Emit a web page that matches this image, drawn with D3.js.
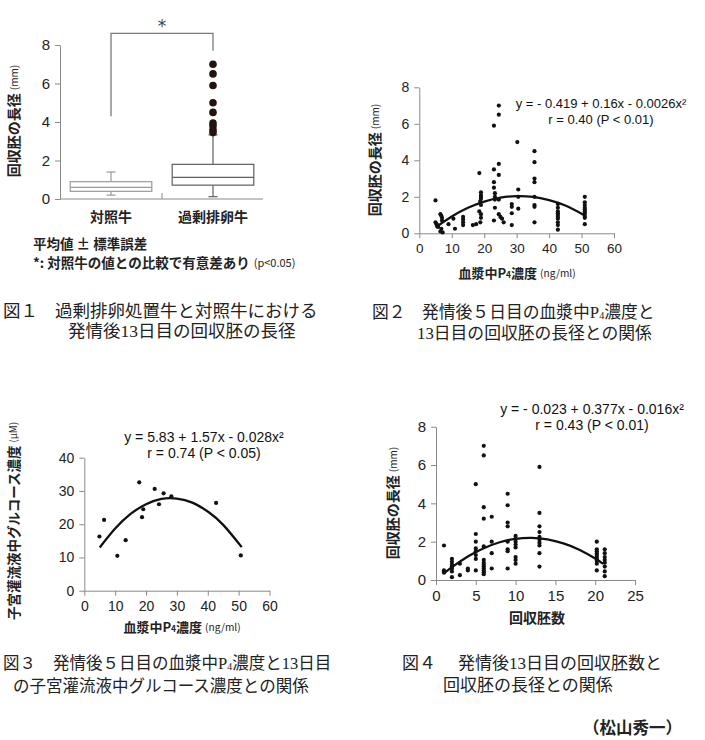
<!DOCTYPE html>
<html><head><meta charset="utf-8">
<script src="https://cdn.jsdelivr.net/npm/d3@7"></script>
<style>
body{margin:0;background:#fff;}
svg{display:block;}
</style></head>
<body><svg id="c" width="705" height="740"></svg>
<script>
// ---------- DATA ----------
// Figure 1: box plot
const fig1Categories = ["対照牛", "過剰排卵牛"];
const fig1WhiskerLow = [0.2, 0.12];
const fig1Q1 = [0.4, 0.72];
const fig1Median = [0.6, 1.12];
const fig1Q3 = [0.9, 1.8];
const fig1WhiskerHigh = [1.4, 3.33];
const fig1Outliers = [7.0, 6.5, 5.9, 5.0, 4.5, 3.95, 3.8, 3.6, 3.45];
const fig1Ticks = [0, 2, 4, 6, 8];
const fig1Bracket = [8.6, 4.3, 7.7]; // top, left leg end, right leg end (mm)

// Figure 2: plasma P4 vs embryo length
const fig2Points = [
 [5,1.8],[5,0.6],[5.3,0.5],[5.5,0.45],[5.8,0.35],[6.5,1.05],[6.8,0.95],[7,0.85],[7,0.7],[6.8,0.25],[6.5,0.1],[7.2,0.05],
 [9,0.5],[10.5,0.8],[11,0.25],[13.5,0.9],[13.5,0.75],[13.5,0.6],[13.5,0.45],[16.5,0.45],[17.5,0.5],
 [18.5,3.3],[19,2.25],[19,2.1],[19,2.0],[19,1.9],[18.8,1.75],[19,1.55],[18.5,1.2],[19,1.05],[19,0.85],[18.8,0.6],
 [23,5.9],[24.5,7.0],[24.5,6.5],[23,3.5],[24.5,3.8],[24.5,3.2],[23,2.8],[23,2.5],[23.3,2.2],[23.3,2.0],[23.3,1.85],[23.3,1.4],[23,0.7],
 [24.5,1.85],[24.5,1.05],[25,0.9],[25.5,0.8],[26,0.6],[28.5,1.6],[28.5,1.45],[28.5,1.1],[28.5,0.45],
 [30.2,5.0],[30.5,2.4],[30.5,2.0],[30.5,1.35],
 [35.5,4.5],[35.5,3.9],[35.5,3.0],[35.5,2.8],[35.5,2.0],[35.5,1.55],[35.5,1.45],[35.5,0.6],
 [42.7,1.6],[42.7,1.4],[42.7,1.2],[42.7,1.1],[42.7,1.0],[42.7,0.9],[42.7,0.8],[42.7,0.6],[42.7,0.45],[42.7,0.2],
 [51,2.0],[51,1.7],[51,1.55],[51,1.4],[51,1.3],[51,1.2],[51,1.1],[51,0.95],[51,0.85],[51,0.5]
];
const fig2CurveX = [5, 10, 15, 20, 25, 30, 35, 40, 45, 51];
const fig2CurveY = [0.32, 0.92, 1.40, 1.74, 1.96, 2.04, 2.00, 1.82, 1.52, 0.98];
const fig2XTicks = [0, 10, 20, 30, 40, 50, 60];
const fig2YTicks = [0, 2, 4, 6, 8];

// Figure 3: plasma P4 vs uterine glucose
const fig3X = [4.9, 6.4, 10.7, 13.4, 17.8, 19.1, 18.7, 22.8, 24.2, 25.7, 28.2, 42.7, 50.7];
const fig3Y = [16.3, 21.3, 10.5, 15.2, 32.6, 24.5, 22.1, 30.6, 26.0, 29.3, 28.4, 26.4, 10.6];
const fig3CurveX = [5, 10, 15, 20, 25, 30, 35, 40, 45, 51];
const fig3CurveY = [13.0, 18.7, 23.1, 26.0, 27.6, 27.7, 26.5, 23.8, 19.8, 13.1];
const fig3XTicks = [0, 10, 20, 30, 40, 50, 60];
const fig3YTicks = [0, 10, 20, 30, 40];

// Figure 4: embryo count vs embryo length
const fig4Columns = [1, 2, 3, 4, 5, 6, 7, 9, 10, 13, 20.2, 21.2];
const fig4Values = [
 [1.8, 0.5, 0.45, 0.38],
 [1.1, 0.95, 0.8, 0.7, 0.6, 0.45, 0.15],
 [0.85, 0.25],
 [0.6, 0.5],
 [5.0, 2.4, 2.0, 1.65, 1.5, 1.3, 1.1, 0.5],
 [7.0, 6.5, 3.8, 3.2, 1.75, 1.05, 0.9, 0.8, 0.7, 0.6, 0.5, 0.4, 0.3],
 [3.3, 2.0, 1.4, 0.6],
 [4.5, 3.9, 3.0, 2.8, 2.0, 1.6, 1.5, 0.6],
 [2.3, 2.15, 2.0, 1.85, 1.7, 1.2, 1.05, 0.85],
 [5.9, 3.5, 2.8, 2.5, 2.25, 2.1, 1.95, 1.8, 1.4, 0.7],
 [2.0, 1.6, 1.5, 1.4, 1.3, 1.2, 1.1, 1.0, 0.85, 0.5],
 [1.6, 1.4, 1.2, 1.05, 0.9, 0.7, 0.45, 0.2]
];
const fig4CurveX = [1, 2, 4, 6, 8, 10, 12, 14, 16, 18, 20, 21];
const fig4CurveY = [0.34, 0.67, 1.23, 1.66, 1.97, 2.15, 2.2, 2.12, 1.91, 1.58, 1.12, 0.84];
const fig4XTicks = [0, 5, 10, 15, 20, 25];
const fig4YTicks = [0, 2, 4, 6, 8];

// ---------- DRAWING ----------
const svg = d3.select("#c");
svg.append("rect").attr("width", 705).attr("height", 740).attr("fill", "#fff");
const SANS = "'Liberation Sans', Arial, 'Noto Sans CJK JP', sans-serif";
const JP = "'Noto Sans CJK JP', sans-serif";
const CAP = "'Liberation Serif', 'Noto Sans CJK JP', serif";
const AX = "#8a8a8a";

function styleAxis(g, fs) {
  g.select(".domain").attr("stroke", AX).attr("stroke-width", 1);
  g.selectAll(".tick line").attr("stroke", AX).attr("stroke-width", 1);
  g.selectAll(".tick text").attr("font-family", SANS).attr("font-size", fs).attr("fill", "#222");
}
function leftAxis(scale, ticks, x, fs) {
  const g = svg.append("g").attr("transform", `translate(${x},0)`)
    .call(d3.axisLeft(scale).tickValues(ticks).tickSize(5).tickSizeOuter(0).tickPadding(5));
  styleAxis(g, fs);
}
function bottomAxis(scale, ticks, y, fs) {
  const g = svg.append("g").attr("transform", `translate(0,${y})`)
    .call(d3.axisBottom(scale).tickValues(ticks).tickSize(5).tickSizeOuter(0).tickPadding(5));
  styleAxis(g, fs);
}
function yTitle(x, y, main, unit, fs) {
  const t = svg.append("text").attr("transform", `translate(${x},${y}) rotate(-90)`)
    .attr("text-anchor", "middle").attr("dominant-baseline", "central")
    .attr("font-family", JP).attr("font-weight", "bold").attr("font-size", fs).attr("fill", "#222");
  t.append("tspan").text(main);
  t.append("tspan").attr("font-size", fs * 0.72).attr("font-weight", "normal").attr("dx", 3).text(unit);
}
function p4Title(x, y, fs) {
  const t = svg.append("text").attr("x", x).attr("y", y).attr("text-anchor", "middle")
    .attr("dominant-baseline", "central").attr("font-family", JP).attr("font-weight", "bold")
    .attr("font-size", fs).attr("fill", "#222");
  t.append("tspan").text("血漿中P");
  t.append("tspan").attr("font-size", fs * 0.65).attr("dy", 2).text("4");
  t.append("tspan").attr("dy", -2).text("濃度");
  t.append("tspan").attr("font-size", fs * 0.78).attr("font-weight", "normal").attr("dx", 3).text("(ng/ml)");
}
function eqText(x, y, lines, fs) {
  lines.forEach((s, i) => {
    svg.append("text").attr("x", x).attr("y", y + i * 16).attr("text-anchor", "middle")
      .attr("dominant-baseline", "central").attr("font-family", SANS).attr("font-size", fs)
      .attr("fill", "#111").text(s);
  });
}
function caption(x, y, parts, fs) {
  const t = svg.append("text").attr("x", x).attr("y", y).attr("dominant-baseline", "central")
    .attr("font-family", CAP).attr("font-size", fs).attr("fill", "#222");
  parts.forEach(p => {
    const s = t.append("tspan").text(p.t);
    if (p.x !== undefined) s.attr("x", p.x);
    if (p.sub) s.attr("font-size", fs * 0.6).attr("dy", 3);
    if (p.up) s.attr("dy", -3);
  });
}
const line = (sx, sy) => d3.line().x(d => sx(d[0])).y(d => sy(d[1])).curve(d3.curveNatural);

// ===== Figure 1 =====
{
  const x = d3.scaleBand().domain(fig1Categories).range([60, 264]).paddingInner(0.2).paddingOuter(0.1);
  const y = d3.scaleLinear().domain([0, 8]).range([199, 45]);
  leftAxis(y, fig1Ticks, 60, 15);
  svg.append("line").attr("x1", 60).attr("x2", 263).attr("y1", y(0)).attr("y2", y(0)).attr("stroke", AX);
  const mid = (x(fig1Categories[0]) + x.bandwidth() + x(fig1Categories[1])) / 2;
  svg.append("line").attr("x1", mid).attr("x2", mid).attr("y1", y(0)).attr("y2", y(0) - 6).attr("stroke", AX);
  const boxColors = ["#9a9a9a", "#5e5e5e"];
  fig1Categories.forEach((c, i) => {
    const cx = x(c) + x.bandwidth() / 2;
    const g = svg.append("g").attr("stroke", boxColors[i]).attr("fill", "none").attr("stroke-width", 1.2);
    g.append("line").attr("x1", cx).attr("x2", cx).attr("y1", y(fig1Q3[i])).attr("y2", y(fig1WhiskerHigh[i]));
    g.append("line").attr("x1", cx).attr("x2", cx).attr("y1", y(fig1Q1[i])).attr("y2", y(fig1WhiskerLow[i]));
    g.append("line").attr("x1", cx - 4.5).attr("x2", cx + 4.5).attr("y1", y(fig1WhiskerHigh[i])).attr("y2", y(fig1WhiskerHigh[i]));
    g.append("line").attr("x1", cx - 4.5).attr("x2", cx + 4.5).attr("y1", y(fig1WhiskerLow[i])).attr("y2", y(fig1WhiskerLow[i]));
    g.append("rect").attr("x", x(c)).attr("width", x.bandwidth())
      .attr("y", y(fig1Q3[i])).attr("height", y(fig1Q1[i]) - y(fig1Q3[i])).attr("fill", "#fff");
    g.append("line").attr("x1", x(c)).attr("x2", x(c) + x.bandwidth()).attr("y1", y(fig1Median[i])).attr("y2", y(fig1Median[i]));
  });
  const cx2 = x(fig1Categories[1]) + x.bandwidth() / 2;
  svg.selectAll(".out").data(fig1Outliers).enter().append("circle")
    .attr("cx", cx2).attr("cy", d => y(d)).attr("r", 3.8).attr("fill", "#24140f");
  const cx1 = x(fig1Categories[0]) + x.bandwidth() / 2;
  svg.append("path").attr("fill", "none").attr("stroke", "#7a7a7a").attr("stroke-width", 1.3)
    .attr("d", `M${cx1},${y(fig1Bracket[1])}V${y(fig1Bracket[0])}H${cx2}V${y(fig1Bracket[2])}`);
  svg.append("text").attr("x", (cx1 + cx2) / 2).attr("y", y(fig1Bracket[0]) - 1).attr("text-anchor", "middle")
    .attr("font-family", "'DejaVu Sans', sans-serif").attr("font-size", 17).attr("fill", "#444").text("*");
  fig1Categories.forEach(c => {
    svg.append("text").attr("x", x(c) + x.bandwidth() / 2).attr("y", 216).attr("text-anchor", "middle")
      .attr("dominant-baseline", "central").attr("font-family", JP).attr("font-weight", "bold")
      .attr("font-size", 14).attr("fill", "#222").text(c);
  });
  yTitle(13, 121, "回収胚の長径", "(mm)", 14);
  svg.append("text").attr("x", 33).attr("y", 243).attr("dominant-baseline", "central").attr("font-family", JP)
    .attr("font-weight", "bold").attr("font-size", 13.5).attr("fill", "#222").text("平均値 ± 標準誤差");
  const n = svg.append("text").attr("x", 33).attr("y", 262).attr("dominant-baseline", "central").attr("font-family", JP)
    .attr("font-weight", "bold").attr("font-size", 13.5).attr("fill", "#222");
  n.append("tspan").text("*: 対照牛の値との比較で有意差あり");
  n.append("tspan").attr("font-size", 11).attr("font-weight", "normal").attr("dx", 4).text("(p<0.05)");
  caption(3, 311, [{t: "図１"}, {t: "過剰排卵処置牛と対照牛における", x: 55}], 17.5);
  caption(68, 331, [{t: "発情後13日目の回収胚の長径"}], 17.5);
}

// ===== Figure 2 =====
{
  const x = d3.scaleLinear().domain([0, 60]).range([419.3, 614]);
  const y = d3.scaleLinear().domain([0, 8]).range([233.3, 87.3]);
  leftAxis(y, fig2YTicks, 419.3, 14);
  bottomAxis(x, fig2XTicks, 233.3, 13.5);
  svg.selectAll(".p2").data(fig2Points).enter().append("circle")
    .attr("cx", d => x(d[0])).attr("cy", d => y(d[1])).attr("r", 2.1).attr("fill", "#111");
  svg.append("path").datum(fig2CurveX.map((v, i) => [v, fig2CurveY[i]])).attr("d", line(x, y))
    .attr("fill", "none").attr("stroke", "#111").attr("stroke-width", 2.3);
  eqText(601, 103, ["y = - 0.419 + 0.16x - 0.0026x²", "r = 0.40 (P < 0.01)"], 13);
  yTitle(374, 160, "回収胚の長径", "(mm)", 14);
  p4Title(517, 272, 13);
  caption(372, 312, [{t: "図２"}, {t: "発情後５日目の血漿中P", x: 422}, {t: "4", sub: true}, {t: "濃度と", up: true}], 16.8);
  caption(417, 333, [{t: "13日目の回収胚の長径との関係"}], 16.8);
}

// ===== Figure 3 =====
{
  const x = d3.scaleLinear().domain([0, 60]).range([84.3, 269.5]);
  const y = d3.scaleLinear().domain([0, 40]).range([590.7, 457.7]);
  leftAxis(y, fig3YTicks, 84.3, 14);
  bottomAxis(x, fig3XTicks, 590.7, 14);
  svg.selectAll(".p3").data(fig3X).enter().append("circle")
    .attr("cx", d => x(d)).attr("cy", (d, i) => y(fig3Y[i])).attr("r", 2.1).attr("fill", "#111");
  svg.append("path").datum(fig3CurveX.map((v, i) => [v, fig3CurveY[i]])).attr("d", line(x, y))
    .attr("fill", "none").attr("stroke", "#111").attr("stroke-width", 2.3);
  eqText(204, 437, ["y = 5.83 + 1.57x - 0.028x²", "r = 0.74 (P < 0.05)"], 14);
  yTitle(13, 521, "子宮灌流液中グルコース濃度", "(μM)", 13.5);
  p4Title(182, 626, 13);
  caption(3, 663, [{t: "図３"}, {t: "発情後５日目の血漿中P", x: 53}, {t: "4", sub: true}, {t: "濃度と13日目", up: true}], 16.5);
  caption(13, 686, [{t: "の子宮灌流液中グルコース濃度との関係"}], 16.5);
}

// ===== Figure 4 =====
{
  const x = d3.scaleLinear().domain([0, 25]).range([436, 635]);
  const y = d3.scaleLinear().domain([0, 8]).range([580, 426.7]);
  leftAxis(y, fig4YTicks, 436, 15);
  bottomAxis(x, fig4XTicks, 580, 15);
  const pts = [];
  fig4Columns.forEach((cx, i) => fig4Values[i].forEach(v => pts.push([cx, v])));
  svg.selectAll(".p4").data(pts).enter().append("circle")
    .attr("cx", d => x(d[0])).attr("cy", d => y(d[1])).attr("r", 2.1).attr("fill", "#111");
  svg.append("path").datum(fig4CurveX.map((v, i) => [v, fig4CurveY[i]])).attr("d", line(x, y))
    .attr("fill", "none").attr("stroke", "#111").attr("stroke-width", 2.3);
  eqText(592, 409, ["y = - 0.023 + 0.377x - 0.016x²", "r = 0.43 (P < 0.01)"], 14);
  yTitle(392, 503, "回収胚の長径", "(mm)", 14);
  svg.append("text").attr("x", 537).attr("y", 617).attr("text-anchor", "middle").attr("dominant-baseline", "central")
    .attr("font-family", JP).attr("font-weight", "bold").attr("font-size", 14).attr("fill", "#222").text("回収胚数");
  caption(402, 663, [{t: "図４"}, {t: "発情後13日目の回収胚数と", x: 458}], 17);
  caption(443, 685, [{t: "回収胚の長径との関係"}], 17);
  const a = svg.append("text").attr("x", 583).attr("y", 728).attr("dominant-baseline", "central")
    .attr("font-family", CAP).attr("font-weight", "bold").attr("font-size", 16.5).attr("fill", "#222").text("（松山秀一）");
}
</script></body></html>
